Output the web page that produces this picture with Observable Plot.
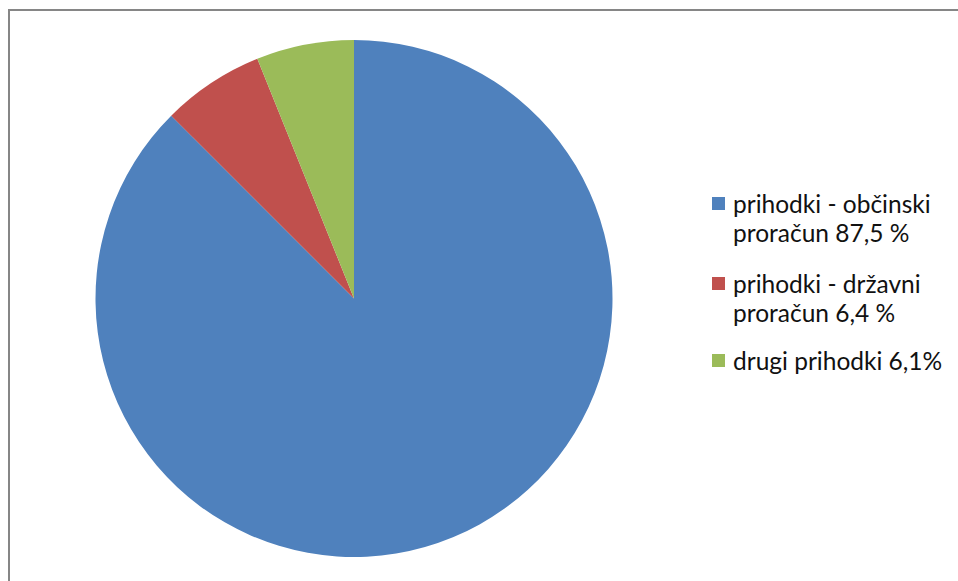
<!DOCTYPE html>
<html>
<head>
<meta charset="utf-8">
<script src="https://cdn.jsdelivr.net/npm/d3@7"></script>
<script src="https://cdn.jsdelivr.net/npm/@observablehq/plot@0.6"></script>
<style>
  html, body { margin: 0; padding: 0; background: #fff; overflow: hidden; }
  #wrap { position: relative; width: 958px; height: 581px; overflow: hidden; background: #fff; }
  #frame { position: absolute; left: 8px; top: 9px; width: 2000px; height: 2000px; border: 2px solid #868686; box-sizing: border-box; }
  #chart { position: absolute; left: 0; top: 0; }
  #legend { position: absolute; left: 712px; top: 0; font-family: Lato, "Open Sans", sans-serif; font-size: 24.5px; color: #111; }
  .item { position: absolute; left: 0; width: 240px; line-height: 29px; }
  .sw { position: absolute; left: 0; top: 8px; width: 13px; height: 13px; }
  .lab { position: absolute; left: 21px; width: 225px; }
</style>
</head>
<body>
<div id="wrap">
  <div id="frame"></div>
  <div id="chart"></div>
  <div id="legend"></div>
</div>
<script>
const categories = ["prihodki - občinski proračun", "prihodki - državni proračun", "drugi prihodki"];
const values = [87.5, 6.4, 6.1];
const labels = ["prihodki - občinski proračun 87,5 %", "prihodki - državni proračun 6,4 %", "drugi prihodki 6,1%"];
const colors = ["#4F81BD", "#C0504D", "#9BBB59"];

const rows = categories.map((c, i) => ({category: c, value: values[i], label: labels[i]}));

function pieMark(index, scales) {
  const cx = scales.x(0), cy = scales.y(0);
  const r = Math.abs(scales.x(1) - scales.x(0));
  const arcs = d3.pie().sort(null).value(d => d.value)(rows);
  const arc = d3.arc().innerRadius(0).outerRadius(r);
  const g = d3.create("svg:g").attr("transform", `translate(${cx},${cy})`);
  g.selectAll("path").data(arcs).join("path")
    .attr("d", arc)
    .attr("fill", d => scales.color(d.data.category));
  return g.node();
}

const chart = Plot.plot({
  width: 958,
  height: 581,
  marginLeft: 95.5,
  marginRight: 345.5,
  marginTop: 39.5,
  marginBottom: 23.5,
  x: {domain: [-1, 1], axis: null},
  y: {domain: [-1, 1], axis: null},
  color: {domain: categories, range: colors},
  style: {background: "transparent"},
  marks: [
    Plot.dot(rows, {x: () => 0, y: () => 0, fill: "category", r: 0}),
    pieMark
  ]
});
document.getElementById("chart").appendChild(chart);

const tops = [189, 269, 346];
const legend = d3.select("#legend");
const items = legend.selectAll("div.item").data(rows).join("div")
  .attr("class", "item")
  .style("top", (d, i) => tops[i] + "px");
items.append("div").attr("class", "sw").style("background", d => chart.scale("color").apply(d.category));
items.append("div").attr("class", "lab").text(d => d.label);
</script>
</body>
</html>
